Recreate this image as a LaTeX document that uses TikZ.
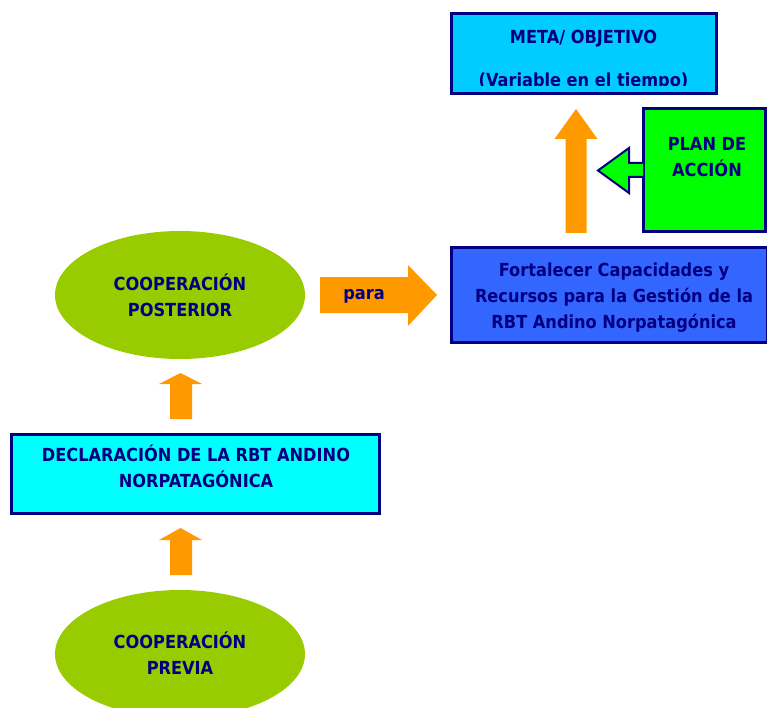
\documentclass[tikz,border=0pt]{standalone}
\usepackage{fontspec}
\setmainfont{DejaVu Sans Condensed}
\usetikzlibrary{shapes.geometric}
\definecolor{navy}{RGB}{0,0,128}
\definecolor{metafill}{RGB}{0,204,255}
\definecolor{planfill}{RGB}{0,255,0}
\definecolor{fortfill}{RGB}{51,102,255}
\definecolor{declfill}{RGB}{0,255,255}
\definecolor{ellfill}{RGB}{153,204,0}
\definecolor{orangefill}{RGB}{255,153,0}
\tikzset{
  txt/.style={text=navy,font=\bfseries\fontsize{18}{26}\selectfont,align=center,inner sep=0pt},
  boxstyle/.style={draw=navy,line width=3pt},
  ellstyle/.style={ellipse,fill=ellfill,draw=none,minimum width=250pt,minimum height=128pt,inner sep=0pt},
  blockarrow/.style={fill=orangefill,draw=none},
}
\begin{document}
\begin{tikzpicture}[x=1pt,y=-1pt]
\useasboundingbox (0,0) rectangle (767,708);
% META box
\path[fill=metafill] (451,14) rectangle (716,94);
\begin{scope}
\clip (451,14) rectangle (716,86);
\node[txt] (meta1) at (583.5,39) {META/ OBJETIVO};
\node[txt,anchor=base] (meta2) at (583.5,87) {(Variable en el tiempo)};
\end{scope}
\draw[boxstyle] (451,14) rectangle (716,94);
% PLAN box
\draw[boxstyle,fill=planfill] (643,109) rectangle (765,232);
\node[txt] (plan) at (707,157) {PLAN DE\\ACCIÓN};
% green arrow
\draw[navy,line width=2pt,fill=planfill,line join=miter] (643,163) -- (629,163) -- (629,148) -- (598,170.5) -- (629,193) -- (629,177) -- (643,177);
% orange up arrow to META
\path[blockarrow] (565.5,233) -- (565.5,139) -- (554.5,139) -- (576,109) -- (597.5,139) -- (586.5,139) -- (586.5,233) -- cycle;
% Fortalecer box
\draw[boxstyle,fill=fortfill] (451,248) rectangle (767,342);
\node[txt] (fort) at (614,298) {Fortalecer Capacidades y\\Recursos para la Gestión de la\\RBT Andino Norpatagónica};
% para arrow
\path[blockarrow] (320,277) -- (408,277) -- (408,265) -- (437,295) -- (408,326) -- (408,313) -- (320,313) -- cycle;
\node[txt] (para) at (364,296) {para};
% ellipse posterior
\node[ellstyle] (post) at (180,295) {};
\node[txt] (posttxt) at (180,295) {COOPERACIÓN\\POSTERIOR};
% arrow up to posterior
\path[blockarrow] (170,419) -- (170,384) -- (159,384) -- (180.5,373) -- (202,384) -- (192,384) -- (192,419) -- cycle;
% declaracion box
\draw[boxstyle,fill=declfill] (11,434) rectangle (379,513);
\node[txt] (decl) at (196,466) {DECLARACIÓN DE LA RBT ANDINO\\NORPATAGÓNICA};
% arrow up to declaracion
\path[blockarrow] (170,575) -- (170,540) -- (159,540) -- (180.5,528) -- (202,540) -- (192,540) -- (192,575) -- cycle;
% ellipse previa
\node[ellstyle] (prev) at (180,654) {};
\node[txt] (prevtxt) at (180,653) {COOPERACIÓN\\PREVIA};
\end{tikzpicture}
\end{document}
